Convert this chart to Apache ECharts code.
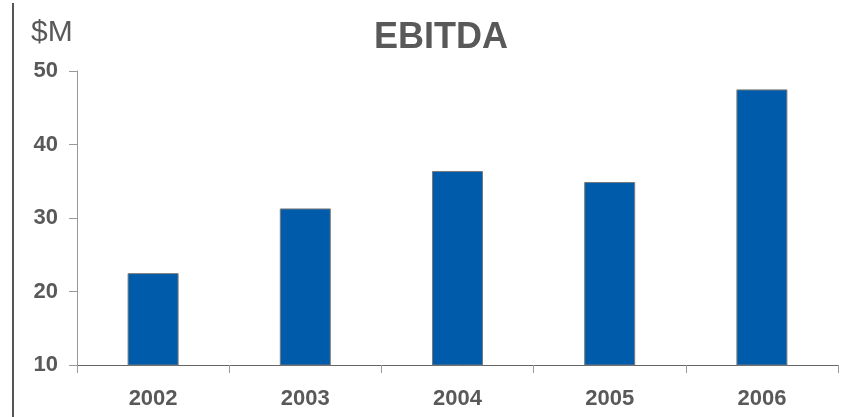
<!DOCTYPE html>
<html>
<head>
<meta charset="utf-8">
<script src="https://cdn.jsdelivr.net/npm/echarts@6/dist/echarts.min.js"></script>
<style>
  html, body { margin: 0; padding: 0; background: #fff; }
  #chart { width: 848px; height: 417px; }
</style>
</head>
<body>
<div id="chart"></div>
<script>
// EBITDA by year, in $M
const years = ['2002', '2003', '2004', '2005', '2006'];
const ebitda = [22.5, 31.3, 36.4, 34.9, 47.5];
const yTicks = { min: 10, max: 50, step: 10 };

const textGray = '#595959';
const font = '"Liberation Sans", Arial, Helvetica, sans-serif';

const chart = echarts.init(document.getElementById('chart'), null, { renderer: 'canvas' });
chart.setOption({
  backgroundColor: '#ffffff',
  animation: false,
  title: {
    text: 'EBITDA',
    left: 436,
    top: 15,
    textAlign: 'center',
    textStyle: { fontFamily: font, fontSize: 36, fontWeight: 'bold', color: textGray }
  },
  graphic: [
    {
      type: 'line',
      shape: { x1: 13, y1: 3, x2: 13, y2: 417 },
      style: { stroke: '#555555', lineWidth: 2 }
    },
    {
      type: 'text',
      left: 31,
      top: 18,
      style: { text: '$M', font: 'normal 30px ' + font, fill: textGray }
    }
  ],
  grid: { left: 77, right: 10, top: 71, bottom: 52 },
  xAxis: {
    type: 'category',
    data: years,
    boundaryGap: true,
    axisLine: { lineStyle: { color: '#666666', width: 1 } },
    axisTick: { show: true, length: 8, lineStyle: { color: '#999999' } },
    axisLabel: {
      margin: 23,
      fontFamily: font, fontSize: 22, fontWeight: 'bold', color: textGray
    },
    splitLine: { show: false }
  },
  yAxis: {
    type: 'value',
    min: yTicks.min,
    max: yTicks.max,
    interval: yTicks.step,
    axisLine: { show: true, lineStyle: { color: '#999999', width: 1 } },
    axisTick: { show: true, length: 8, lineStyle: { color: '#999999' } },
    axisLabel: {
      margin: 19,
      fontFamily: font, fontSize: 22, fontWeight: 'bold', color: textGray
    },
    splitLine: { show: false }
  },
  series: [{
    type: 'bar',
    data: ebitda,
    barWidth: '33.5%',
    itemStyle: { color: '#005BAA', borderColor: '#7a7a7a', borderWidth: 1 }
  }]
});
</script>
</body>
</html>
